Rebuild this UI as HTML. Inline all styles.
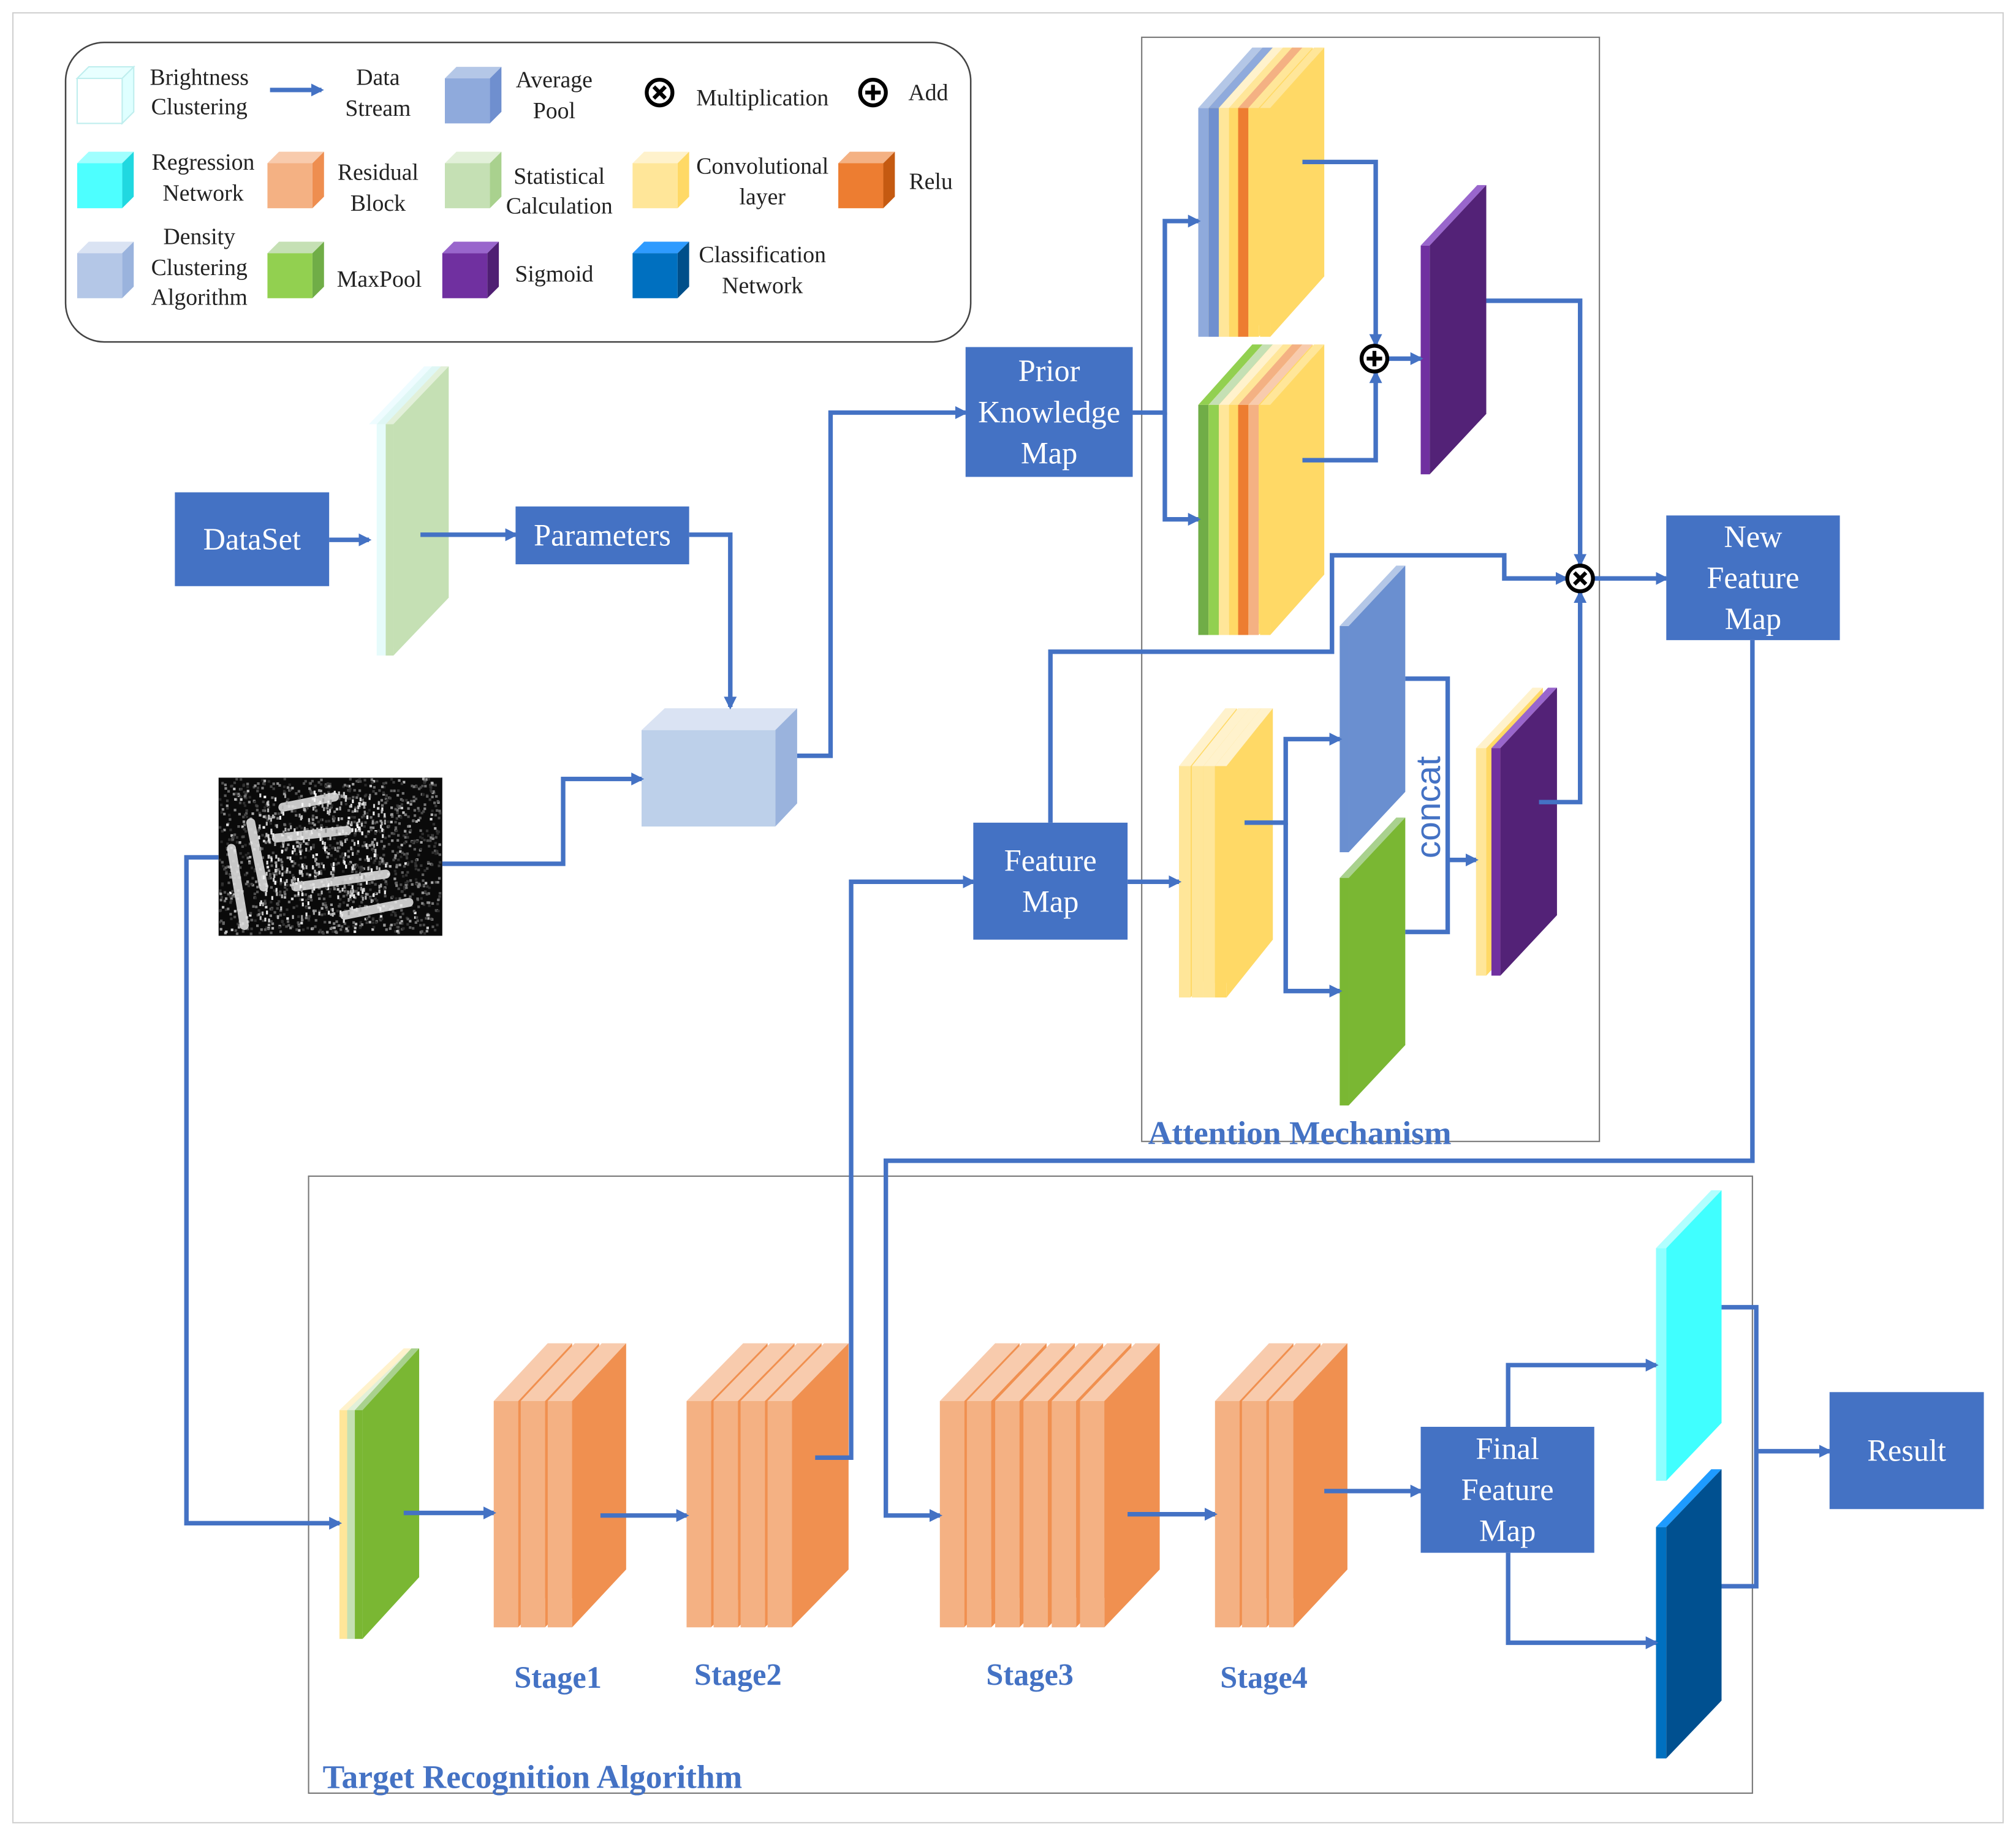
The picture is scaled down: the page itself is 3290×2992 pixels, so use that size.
<!DOCTYPE html>
<html><head><meta charset="utf-8">
<style>
html,body{margin:0;padding:0;background:#fff;}
svg{display:block;}
text{font-family:"Liberation Serif",serif;}
</style></head>
<body>
<svg id="s" width="3290" height="2992" viewBox="0 0 1568 1426" xmlns="http://www.w3.org/2000/svg">
<defs>
<marker id="ar" markerWidth="10" markerHeight="10" refX="8" refY="5" orient="auto" markerUnits="userSpaceOnUse">
<path d="M0,0 L10,5 L0,10 Z" fill="#4472c4"/>
</marker>
</defs>
<rect x="10" y="10" width="1548" height="1408" fill="#fff" stroke="#d0d0d0" stroke-width="1"/>
<g id="g"></g>
</svg>
<script>
var o='';
var B='#4472c4';
function slab(x,yt,fw,sw,h,d,fc,tc,sc){
 o+='<rect x="'+x+'" y="'+(yt+d)+'" width="'+fw+'" height="'+(h-d)+'" fill="'+fc+'"/>';
 o+='<polygon points="'+x+','+(yt+d)+' '+(x+sw)+','+yt+' '+(x+fw+sw)+','+yt+' '+(x+fw)+','+(yt+d)+'" fill="'+tc+'"/>';
 o+='<polygon points="'+(x+fw)+','+(yt+d)+' '+(x+fw+sw)+','+yt+' '+(x+fw+sw)+','+(yt+h-d)+' '+(x+fw)+','+(yt+h)+'" fill="'+sc+'"/>';
}
function cube(x,y,fc,tc,sc,st){
 var s=st?' stroke="'+st+'" stroke-width="1"':'';
 o+='<polygon points="'+x+','+(y+9)+' '+(x+9)+','+y+' '+(x+44)+','+y+' '+(x+35)+','+(y+9)+'" fill="'+tc+'"'+s+'/>';
 o+='<polygon points="'+(x+35)+','+(y+9)+' '+(x+44)+','+y+' '+(x+44)+','+(y+35)+' '+(x+35)+','+(y+44)+'" fill="'+sc+'"'+s+'/>';
 o+='<rect x="'+x+'" y="'+(y+9)+'" width="35" height="35" fill="'+fc+'"'+s+'/>';
}
function t(x,y,s,sz,c,anc,w){
 o+='<text x="'+x+'" y="'+y+'" font-size="'+(sz||18)+'" fill="'+(c||'#222')+'" text-anchor="'+(anc||'middle')+'"'+(w?' font-weight="bold"':'')+'>'+s+'</text>';
}
function node(x1,y1,x2,y2,lines){
 o+='<rect x="'+x1+'" y="'+y1+'" width="'+(x2-x1)+'" height="'+(y2-y1)+'" fill="'+B+'"/>';
 var cx=(x1+x2)/2,cy=(y1+y2)/2,n=lines.length,lh=32;
 for(var i=0;i<n;i++)t(cx,cy+(i-(n-1)/2)*lh+8,lines[i],24,'#fff');
}
function line(pts,arrow){
 o+='<polyline points="'+pts+'" fill="none" stroke="'+B+'" stroke-width="3.5"'+(arrow?' marker-end="url(#ar)"':'')+'/>';
}
function circ(x,y,plus){
 o+='<circle cx="'+x+'" cy="'+y+'" r="10" fill="#fff" stroke="#000" stroke-width="3"/>';
 if(plus)o+='<path d="M'+(x-6)+','+y+' H'+(x+6)+' M'+x+','+(y-6)+' V'+(y+6)+'" stroke="#000" stroke-width="3"/>';
 else o+='<path d="M'+(x-4.5)+','+(y-4.5)+' L'+(x+4.5)+','+(y+4.5)+' M'+(x+4.5)+','+(y-4.5)+' L'+(x-4.5)+','+(y+4.5)+'" stroke="#000" stroke-width="3"/>';
}
// Legend
o+='<rect x="51" y="33" width="704" height="233" rx="30" fill="#fff" stroke="#444" stroke-width="1.2"/>';
cube(60,52,'#fff','#e8ffff','#dfffff','#bfeeee');t(155,66,'Brightness');t(155,89,'Clustering');
line('210,70 250,70',true);t(294,66,'Data');t(294,90,'Stream');
cube(346,52,'#8faadc','#b4c7e7','#6f8fcf');t(431,68,'Average');t(431,92,'Pool');
circ(513,72,false);t(593,82,'Multiplication');
circ(679,72,true);t(722,78,'Add');
cube(60,118,'#4dffff','#a0ffff','#20d8e0');t(158,132,'Regression');t(158,156,'Network');
cube(208,118,'#f4b183','#f8cbad','#ee8e50');t(294,140,'Residual');t(294,164,'Block');
cube(346,118,'#c5e0b4','#e2f0d9','#a9d18e');t(435,143,'Statistical');t(435,166,'Calculation');
cube(492,118,'#ffe699','#fff2cc','#ffd966');t(593,135,'Convolutional');t(593,159,'layer');
cube(652,118,'#ed7d31','#f4b183','#c55a11');t(724,147,'Relu');
cube(60,188,'#b4c7e7','#dae3f3','#9ab3dd');t(155,190,'Density');t(155,214,'Clustering');t(155,237,'Algorithm');
cube(208,188,'#92d050','#c5e0b4','#70ad47');t(295,223,'MaxPool');
cube(344,188,'#7030a0','#9966cc','#4f1f73');t(431,219,'Sigmoid');
cube(492,188,'#0070c0','#2e9bff','#004f8a');t(593,204,'Classification');t(593,228,'Network');
// boxes
o+='<rect x="888" y="29" width="356" height="859" fill="none" stroke="#777" stroke-width="1"/>';
t(893,890,'Attention Mechanism',25.5,B,'start',true);
o+='<rect x="240" y="915" width="1123" height="480" fill="none" stroke="#777" stroke-width="1"/>';
t(251,1391,'Target Recognition Algorithm',25.5,B,'start',true);
// stat calc slabs
slab(287,285,6,43,225,45,'#fff','#eefcff','#f6fffb');
slab(293,285,7,43,225,45,'#e6fbfb','#dff7f5','#d8eedd');
slab(300,285,6,43,225,45,'#c5e0b4','#e2f0d9','#c5e0b4');
// density cube
o+='<polygon points="499,568 517,551 620,551 603,568" fill="#dae3f3"/>';
o+='<polygon points="603,568 620,551 620,625 603,643" fill="#9ab3dd"/>';
o+='<rect x="499" y="568" width="104" height="75" fill="#bdd0ea"/>';
// SAR image
o+='<rect x="170" y="605" width="174" height="123" fill="#0a0a0a"/>';
var seed=7;function rnd(){seed=(seed*16807)%2147483647;return seed/2147483647;}
for(var i=0;i<1400;i++){var x=170+rnd()*172,y=605+rnd()*121,g=Math.floor(40+rnd()*rnd()*215);o+='<rect x="'+x.toFixed(1)+'" y="'+y.toFixed(1)+'" width="2" height="2" fill="rgb('+g+','+g+','+g+')"/>';}
// ships (bright streaks)
[[220,628,260,620],[215,652,270,646],[230,690,300,680],[268,712,318,702],[195,640,205,690],[180,660,190,720]].forEach(function(e){o+='<line x1="'+e[0]+'" y1="'+e[1]+'" x2="'+e[2]+'" y2="'+e[3]+'" stroke="#e8e8e8" stroke-width="7" stroke-linecap="round" opacity="0.85"/>';});
for(var i=0;i<300;i++){var x=200+rnd()*100,y=615+rnd()*100;var g=Math.floor(150+rnd()*105);o+='<rect x="'+x.toFixed(1)+'" y="'+y.toFixed(1)+'" width="1.5" height="3" fill="rgb('+g+','+g+','+g+')"/>';}
// attention stacks
var s1=[['#8faadc','#b4c7e7'],['#6f8fcf','#8faadc'],['#ffe699','#fff2cc'],['#ffd966','#ffe699'],['#ed7d31','#f4b183'],['#ffd966','#ffe699'],['#ffd966','#ffe699']];
var xs=[932,940,948,956,963,971,980];
for(var i=0;i<7;i++)slab(xs[i],37,8,42,225,47,s1[i][0],s1[i][1],'#ffd966');
var s2=[['#70ad47','#92d050'],['#92d050','#c5e0b4'],['#ffe699','#fff2cc'],['#ffd966','#ffe699'],['#ed7d31','#f4b183'],['#f4b183','#f8cbad'],['#ffd966','#ffe699']];
for(var i=0;i<7;i++)slab(xs[i],268,8,42,226,47,s2[i][0],s2[i][1],'#ffd966');
slab(1105,144,7,44,225,47,'#7030a0','#9966cc','#532277');
[917,927,936,945].forEach(function(x,i){slab(x,551,9,36,225,45,i<3?'#ffe699':'#ffd966','#fff2cc','#ffd966');});
slab(1042,440,7,44,223,47,'#6a8fd0','#b4c7e7','#6a8fd0');
slab(1042,636,7,44,224,47,'#7ab733','#a9d18e','#7ab733');
slab(1148,535,8,44,224,47,'#ffe699','#fff2cc','#ffd966');
slab(1160,535,7,44,224,47,'#7030a0','#9966cc','#532277');
o+='<text x="1120" y="628" font-size="27" fill="'+B+'" text-anchor="middle" style="font-family:\'Liberation Sans\',sans-serif" transform="rotate(-90 1120 628)">concat</text>';
// bottom stacks
slab(264,1049,6,50,226,48,'#ffe699','#fff2cc','#ffe699');
slab(270,1049,6,50,226,48,'#c5e0b4','#e2f0d9','#c5e0b4');
slab(276,1049,6,44,226,48,'#7ab733','#a9d18e','#7ab733');
function stage(arr,sideEnd){
 for(var i=0;i<arr.length;i++){slab(arr[i],1045,19,sideEnd-arr[arr.length-1]-19,221,45,'#f4b183','#f8cbad','#f09050');}
}
stage([384,405,426],487);
stage([534,555,576,597],660);
stage([731,752,774,796,818,840],902);
stage([945,966,987],1048);
t(434,1313,'Stage1',24,B,'middle',true);
t(574,1311,'Stage2',24,B,'middle',true);
t(801,1311,'Stage3',24,B,'middle',true);
t(983,1313,'Stage4',24,B,'middle',true);
slab(1288,926,8,43,226,45,'#8fffff','#b0ffff','#40ffff');
slab(1288,1143,8,43,225,45,'#0070c0','#1e9bff','#005090');
// nodes
node(136,383,256,456,['DataSet']);
node(401,394,536,439,['Parameters']);
node(751,270,881,371,['Prior','Knowledge','Map']);
node(757,640,877,731,['Feature','Map']);
node(1296,401,1431,498,['New','Feature','Map']);
node(1105,1110,1240,1208,['Final','Feature','Map']);
node(1423,1083,1543,1174,['Result']);
// connectors
line('256,420 287,420',true);
line('327,416 401,416',true);
line('536,416 568,416 568,550',true);
line('620,588 646,588 646,321 751,321',true);
line('344,672 438,672 438,606 499,606',true);
line('170,667 145,667 145,1185 264,1185',true);
line('881,321 906,321 906,172 932,172',true);
line('906,321 906,404 932,404',true);
line('1013,126 1070,126 1070,268',true);
line('1013,358 1070,358 1070,290',true);
line('1079,279 1105,279',true);
line('1156,234 1229,234 1229,439',true);
line('817,640 817,507 1036,507 1036,432 1170,432 1170,450 1218,450',true);
line('1197,624 1229,624 1229,461',true);
line('1240,450 1296,450',true);
line('877,686 917,686',true);
line('968,640 1000,640 1000,575 1042,575',true);
line('1000,640 1000,771 1042,771',true);
line('1093,528 1126,528 1126,725 1093,725',false);
line('1126,669 1148,669',true);
line('1363,498 1363,903 689,903 689,1179 731,1179',true);
line('634,1134 662,1134 662,686 757,686',true);
line('314,1177 384,1177',true);
line('467,1179 534,1179',true);
line('877,1178 945,1178',true);
line('1030,1160 1105,1160',true);
line('1173,1110 1173,1062 1288,1062',true);
line('1173,1208 1173,1278 1288,1278',true);
line('1339,1017 1366,1017 1366,1234 1339,1234',false);
line('1366,1129 1423,1129',true);
circ(1069,279,true);
circ(1229,450,false);
document.getElementById('g').innerHTML=o;
</script>
</body></html>
